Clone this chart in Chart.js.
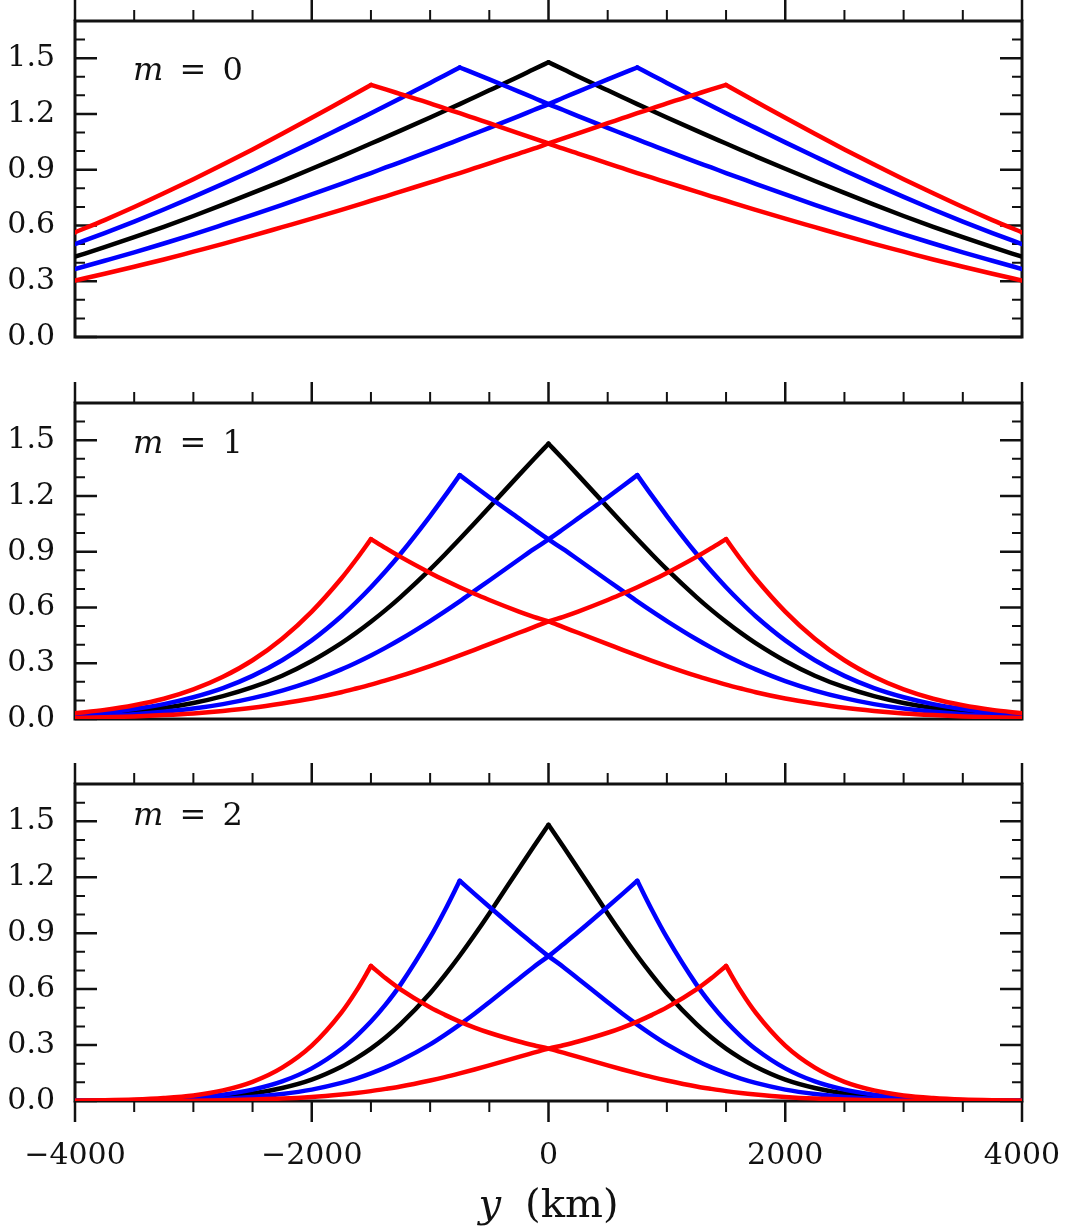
<!DOCTYPE html>
<html>
<head>
<meta charset="utf-8">
<script src="https://cdn.jsdelivr.net/npm/chart.js@4.4.1/dist/chart.umd.min.js"></script>
<style>
  body { margin: 0; background: #fff; }
  #fig { position: relative; width: 1069px; height: 1232px; font-family: 'DejaVu Serif', serif; color: #111; }
  #fig canvas { position: absolute; left: 0; }
  .mlabel { position: absolute; left: 133px; font-size: 32px; line-height: 32px; word-spacing: 6px; white-space: nowrap; }
  #xtitle { position: absolute; left: 0; width: 1097px; text-align: center; font-size: 40px; line-height: 40px; white-space: nowrap; }
</style>
</head>
<body>
<div id="fig">
  <canvas id="panel0" width="1069" height="362" style="top:0px"></canvas>
  <canvas id="panel1" width="1069" height="362" style="top:380px"></canvas>
  <canvas id="panel2" width="1069" height="470" style="top:762px"></canvas>
  <div class="mlabel" style="top:53px"><i>m</i> = 0</div>
  <div class="mlabel" style="top:426px"><i>m</i> = 1</div>
  <div class="mlabel" style="top:798px"><i>m</i> = 2</div>
  <div id="xtitle" style="top:1183px"><i>y</i><span style="margin-left:24px">(km)</span></div>
</div>
<script>
// positions along y (km); a little denser around the peaks
const yKm = [-4000, -3750, -3500, -3250, -3000, -2750, -2500, -2250, -2000, -1750,
  -1625, -1500, -1375, -1250, -1000, -875, -750, -625, -500, -250, -125, 0,
  125, 250, 500, 625, 750, 875, 1000, 1250, 1375, 1500, 1625, 1750,
  2000, 2250, 2500, 2750, 3000, 3250, 3500, 3750, 4000];
const peakKm = [-1500, -750, 0, 750, 1500];
const yTicks = [0, 0.3, 0.6, 0.9, 1.2, 1.5];
const xTicks = [-4000, -2000, 0, 2000, 4000];

// m = 0
const m0RedL = [0.563, 0.629, 0.699, 0.773, 0.849, 0.928, 1.009, 1.093, 1.179, 1.267,
  1.311, 1.356, 1.332, 1.307, 1.257, 1.230, 1.204, 1.177, 1.150, 1.096, 1.068, 1.041,
  1.013, 0.987, 0.934, 0.908, 0.882, 0.857, 0.832, 0.782, 0.757, 0.733, 0.708, 0.684,
  0.637, 0.591, 0.545, 0.501, 0.459, 0.417, 0.378, 0.340, 0.304];
const m0BlueL = [0.500, 0.559, 0.621, 0.686, 0.754, 0.824, 0.896, 0.971, 1.047, 1.125,
  1.164, 1.204, 1.244, 1.285, 1.367, 1.408, 1.450, 1.418, 1.386, 1.320, 1.287, 1.253,
  1.221, 1.188, 1.125, 1.094, 1.063, 1.032, 1.001, 0.941, 0.912, 0.882, 0.853, 0.824,
  0.767, 0.711, 0.657, 0.604, 0.552, 0.503, 0.455, 0.410, 0.366];
const m0Black = [0.432, 0.483, 0.537, 0.593, 0.651, 0.712, 0.775, 0.839, 0.905, 0.972,
  1.006, 1.041, 1.075, 1.110, 1.181, 1.217, 1.253, 1.290, 1.327, 1.401, 1.440, 1.478,
  1.440, 1.401, 1.327, 1.290, 1.253, 1.217, 1.181, 1.110, 1.075, 1.041, 1.006, 0.972,
  0.905, 0.839, 0.775, 0.712, 0.651, 0.593, 0.537, 0.483, 0.432];
const m0BlueR = [0.366, 0.410, 0.455, 0.503, 0.552, 0.604, 0.657, 0.711, 0.767, 0.824,
  0.853, 0.882, 0.912, 0.941, 1.001, 1.032, 1.063, 1.094, 1.125, 1.188, 1.221, 1.253,
  1.287, 1.320, 1.386, 1.418, 1.450, 1.408, 1.367, 1.285, 1.244, 1.204, 1.164, 1.125,
  1.047, 0.971, 0.896, 0.824, 0.754, 0.686, 0.621, 0.559, 0.500];
const m0RedR = [0.304, 0.340, 0.378, 0.417, 0.459, 0.501, 0.545, 0.591, 0.637, 0.684,
  0.708, 0.733, 0.757, 0.782, 0.832, 0.857, 0.882, 0.908, 0.934, 0.987, 1.013, 1.041,
  1.068, 1.096, 1.150, 1.177, 1.204, 1.230, 1.257, 1.307, 1.332, 1.356, 1.311, 1.267,
  1.179, 1.093, 1.009, 0.928, 0.849, 0.773, 0.699, 0.629, 0.563];

// m = 1
const m1RedL = [0.031, 0.049, 0.074, 0.109, 0.159, 0.227, 0.316, 0.432, 0.578, 0.756,
  0.858, 0.968, 0.919, 0.872, 0.786, 0.746, 0.709, 0.674, 0.640, 0.578, 0.550, 0.525,
  0.494, 0.464, 0.403, 0.372, 0.342, 0.313, 0.285, 0.232, 0.208, 0.185, 0.164, 0.144,
  0.110, 0.083, 0.060, 0.043, 0.030, 0.021, 0.014, 0.009, 0.006];
const m1BlueL = [0.023, 0.036, 0.054, 0.080, 0.117, 0.166, 0.232, 0.316, 0.423, 0.553,
  0.628, 0.709, 0.796, 0.889, 1.092, 1.200, 1.312, 1.252, 1.193, 1.079, 1.022, 0.966,
  0.914, 0.858, 0.745, 0.689, 0.633, 0.579, 0.527, 0.429, 0.384, 0.342, 0.303, 0.267,
  0.204, 0.153, 0.112, 0.080, 0.056, 0.039, 0.026, 0.017, 0.011];
const m1Black = [0.017, 0.026, 0.040, 0.059, 0.086, 0.123, 0.171, 0.233, 0.312, 0.408,
  0.463, 0.523, 0.587, 0.656, 0.805, 0.885, 0.968, 1.053, 1.139, 1.312, 1.397, 1.481,
  1.397, 1.312, 1.139, 1.053, 0.968, 0.885, 0.805, 0.656, 0.587, 0.523, 0.463, 0.408,
  0.312, 0.233, 0.171, 0.123, 0.086, 0.059, 0.040, 0.026, 0.017];
const m1BlueR = [0.011, 0.017, 0.026, 0.039, 0.056, 0.080, 0.112, 0.153, 0.204, 0.267,
  0.303, 0.342, 0.384, 0.429, 0.527, 0.579, 0.633, 0.689, 0.745, 0.858, 0.914, 0.966,
  1.022, 1.079, 1.193, 1.252, 1.312, 1.200, 1.092, 0.889, 0.796, 0.709, 0.628, 0.553,
  0.423, 0.316, 0.232, 0.166, 0.117, 0.080, 0.054, 0.036, 0.023];
const m1RedR = [0.006, 0.009, 0.014, 0.021, 0.030, 0.043, 0.060, 0.083, 0.110, 0.144,
  0.164, 0.185, 0.208, 0.232, 0.285, 0.313, 0.342, 0.372, 0.403, 0.464, 0.494, 0.525,
  0.550, 0.578, 0.640, 0.674, 0.709, 0.746, 0.786, 0.872, 0.919, 0.968, 0.858, 0.756,
  0.578, 0.432, 0.316, 0.227, 0.159, 0.109, 0.074, 0.049, 0.031];

// m = 2
const m2RedL = [0.002, 0.004, 0.008, 0.016, 0.030, 0.057, 0.103, 0.179, 0.297, 0.474,
  0.589, 0.724, 0.658, 0.599, 0.502, 0.462, 0.426, 0.394, 0.366, 0.319, 0.299, 0.281,
  0.259, 0.237, 0.191, 0.169, 0.148, 0.128, 0.110, 0.078, 0.065, 0.053, 0.043, 0.035,
  0.022, 0.013, 0.008, 0.004, 0.002, 0.001, 0.001, 0.000, 0.000];
const m2BlueL = [0.001, 0.002, 0.004, 0.009, 0.018, 0.034, 0.061, 0.105, 0.175, 0.279,
  0.347, 0.426, 0.518, 0.624, 0.877, 1.023, 1.181, 1.111, 1.042, 0.906, 0.841, 0.777,
  0.719, 0.656, 0.530, 0.468, 0.410, 0.355, 0.304, 0.217, 0.180, 0.148, 0.120, 0.097,
  0.061, 0.037, 0.021, 0.012, 0.006, 0.003, 0.002, 0.001, 0.000];
const m2Black = [0.001, 0.001, 0.003, 0.006, 0.012, 0.022, 0.040, 0.070, 0.115, 0.184,
  0.229, 0.281, 0.342, 0.412, 0.578, 0.675, 0.779, 0.890, 1.006, 1.246, 1.365, 1.481,
  1.365, 1.246, 1.006, 0.890, 0.779, 0.675, 0.578, 0.412, 0.342, 0.281, 0.229, 0.184,
  0.115, 0.070, 0.040, 0.022, 0.012, 0.006, 0.003, 0.001, 0.001];
const m2BlueR = [0.000, 0.001, 0.002, 0.003, 0.006, 0.012, 0.021, 0.037, 0.061, 0.097,
  0.120, 0.148, 0.180, 0.217, 0.304, 0.355, 0.410, 0.468, 0.530, 0.656, 0.719, 0.777,
  0.841, 0.906, 1.042, 1.111, 1.181, 1.023, 0.877, 0.624, 0.518, 0.426, 0.347, 0.279,
  0.175, 0.105, 0.061, 0.034, 0.018, 0.009, 0.004, 0.002, 0.001];
const m2RedR = [0.000, 0.000, 0.001, 0.001, 0.002, 0.004, 0.008, 0.013, 0.022, 0.035,
  0.043, 0.053, 0.065, 0.078, 0.110, 0.128, 0.148, 0.169, 0.191, 0.237, 0.259, 0.281,
  0.299, 0.319, 0.366, 0.394, 0.426, 0.462, 0.502, 0.599, 0.658, 0.724, 0.589, 0.474,
  0.297, 0.179, 0.103, 0.057, 0.030, 0.016, 0.008, 0.004, 0.002];

const RED = '#ff0000';
const BLUE = '#0000ff';
const BLACK = '#000000';

const tickFont = { family: "'DejaVu Serif', serif", size: 30 };

// frame, inward y ticks and outward x ticks
const frameTicks = {
  id: 'frameTicks',
  beforeDatasetsDraw(chart, args, opts) {
    const { ctx, chartArea: a, scales: { x, y } } = chart;
    ctx.save();
    ctx.strokeStyle = '#111';
    ctx.lineCap = 'butt';
    for (let i = 0; i < 17; i++) {
      const py = y.getPixelForValue(i / 10);
      const major = i % 3 === 0;
      const len = major ? 22 : 10;
      ctx.lineWidth = major ? 2.5 : 2;
      ctx.beginPath();
      ctx.moveTo(a.left, py); ctx.lineTo(a.left + len, py);
      ctx.moveTo(a.right, py); ctx.lineTo(a.right - len, py);
      ctx.stroke();
    }
    for (let v = -4000; v <= 4000; v += 500) {
      const px = x.getPixelForValue(v);
      const major = v % 2000 === 0;
      const len = major ? 21 : 11;
      ctx.lineWidth = major ? 2.5 : 2;
      ctx.beginPath();
      ctx.moveTo(px, a.top); ctx.lineTo(px, a.top - len);
      if (opts.bottom) {
        ctx.moveTo(px, a.bottom); ctx.lineTo(px, a.bottom + len);
      }
      ctx.stroke();
    }
    ctx.lineWidth = 3;
    ctx.strokeRect(a.left, a.top, a.right - a.left, a.bottom - a.top);
    ctx.restore();
  }
};

// one curve is drawn as two branches that meet at its peak
function branches(values, peak, color) {
  const k = yKm.indexOf(peak);
  const pts = yKm.map((x, i) => ({ x: x, y: values[i] }));
  return [pts.slice(0, k + 1), pts.slice(k)].map(data => ({
    data: data,
    borderColor: color,
    borderWidth: 4.5,
    borderCapStyle: 'round',
    pointRadius: 0,
    fill: false,
    cubicInterpolationMode: 'monotone'
  }));
}

// invisible tick marks only push the labels away from the axis
const hiddenGrid = len => ({
  display: true, drawOnChartArea: false, drawTicks: true, tickLength: len, color: 'rgba(0,0,0,0)'
});

function createPanel(canvasId, curves, padTop, padBottom, showX) {
  let datasets = [];
  curves.forEach(c => { datasets = datasets.concat(branches(c.values, c.peak, c.color)); });

  const xScale = {
    type: 'linear',
    min: -4000,
    max: 4000,
    display: showX,
    grid: hiddenGrid(37),
    border: { display: false },
    afterBuildTicks: scale => { scale.ticks = xTicks.map(v => ({ value: v })); },
    ticks: {
      maxRotation: 0,
      autoSkip: false,
      padding: 0,
      color: '#111',
      font: tickFont,
      callback: v => (v < 0 ? '\u2212' : '') + Math.abs(v)
    }
  };
  if (showX) xScale.afterFit = scale => { scale.height = 131; };

  new Chart(document.getElementById(canvasId), {
    type: 'line',
    data: { datasets: datasets },
    options: {
      responsive: false,
      animation: false,
      events: [],
      layout: { padding: { left: 0, right: 47, top: padTop, bottom: padBottom } },
      plugins: {
        legend: { display: false },
        tooltip: { enabled: false },
        frameTicks: { bottom: showX }
      },
      scales: {
        x: xScale,
        y: {
          min: 0,
          max: 1.7,
          grid: hiddenGrid(20),
          border: { display: false },
          afterBuildTicks: scale => { scale.ticks = yTicks.map(v => ({ value: v })); },
          afterFit: scale => { scale.width = 75; },
          ticks: {
            padding: 0,
            color: '#111',
            font: tickFont,
            callback: v => v.toFixed(1)
          }
        }
      }
    },
    plugins: [frameTicks]
  });
}

function curveSet(redL, blueL, black, blueR, redR) {
  // first dataset ends up on top
  return [
    { values: redL, peak: peakKm[0], color: RED },
    { values: redR, peak: peakKm[4], color: RED },
    { values: blueL, peak: peakKm[1], color: BLUE },
    { values: blueR, peak: peakKm[3], color: BLUE },
    { values: black, peak: peakKm[2], color: BLACK }
  ];
}

createPanel('panel0', curveSet(m0RedL, m0BlueL, m0Black, m0BlueR, m0RedR), 21, 25, false);
createPanel('panel1', curveSet(m1RedL, m1BlueL, m1Black, m1BlueR, m1RedR), 23, 23, false);
createPanel('panel2', curveSet(m2RedL, m2BlueL, m2Black, m2BlueR, m2RedR), 22, 0, true);
</script>
</body>
</html>
